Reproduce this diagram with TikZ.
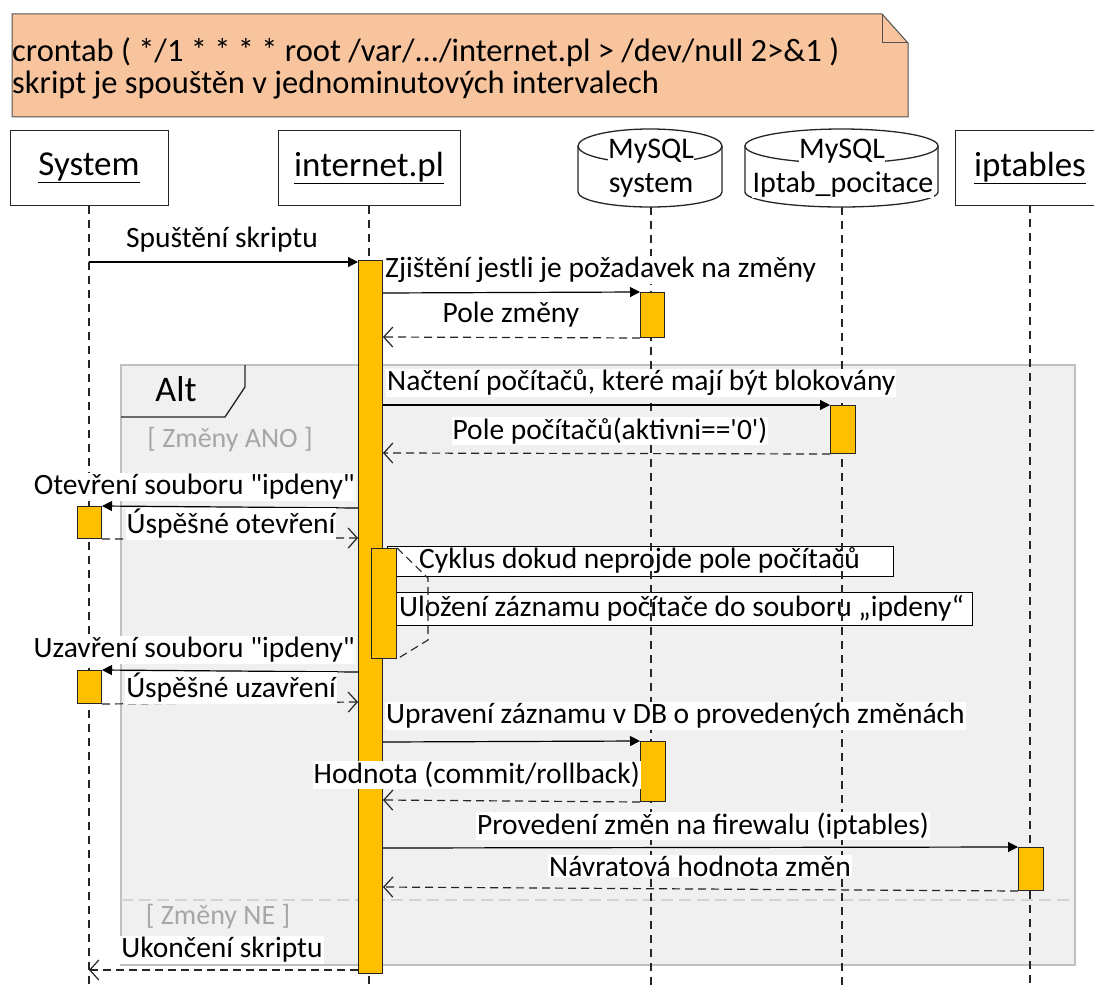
\documentclass[tikz,border=0pt]{standalone}
\usepackage{fontspec}
\setmainfont{Carlito}
\usetikzlibrary{arrows.meta}
\definecolor{actc}{HTML}{FFC000}
\definecolor{notec}{HTML}{F8C49D}
\definecolor{framec}{HTML}{F0F0F0}
\definecolor{frameb}{HTML}{C0C0C0}
\definecolor{guardc}{HTML}{A6A6A6}
\definecolor{linec}{HTML}{252525}
\begin{document}
\begin{tikzpicture}[x=1pt,y=-1pt,
  every node/.style={font=\fontsize{29.5}{33}\selectfont, inner sep=1pt},
  lbl/.style={fill=white},
  hdr/.style={draw=linec, line width=1pt, font=\fontsize{35}{38}\selectfont},
  act/.style={draw=linec, fill=actc, line width=1pt, inner sep=0pt},
  life/.style={draw=linec, line width=1.1pt, dash pattern=on 8pt off 6pt},
  msg/.style={draw=black, line width=1.2pt, -{Triangle[length=10pt,width=10pt]}},
  ret/.style={draw=linec, line width=1.2pt, dash pattern=on 8pt off 5pt, -{Straight Barb[length=9pt,width=20pt,line width=1.2pt]}},
  guard/.style={text=guardc, font=\fontsize{28}{32}\selectfont},
  loopbox/.style={draw=black, line width=1.3pt, fill=white, inner sep=0pt, anchor=north west},
  cyl/.style={draw=linec, line width=1.3pt},
  cyltext/.style={fill=white, inner sep=0.5pt, font=\fontsize{30}{31}\selectfont},
  notetext/.style={anchor=west, font=\fontsize{32.5}{36}\selectfont},
]
\useasboundingbox (0,0) rectangle (1094,987);

% note
\draw[fill=notec, draw=linec!80, line width=1pt] (12,14) -- (882,14) -- (908,43) -- (908,117) -- (12,117) -- cycle;
\draw[draw=linec!80, line width=1pt] (882,14) -- (882,43) -- (908,43);
\node[notetext] (n1) at (11,52) {crontab ( */1 * * * * root /var/.../internet.pl > /dev/null 2>\&1 )};
\node[notetext] (n2) at (11,85) {skript je spouštěn v jednominutových intervalech};

% alt frame
\draw[fill=framec, draw=frameb, line width=1.3pt] (121,365) rectangle (1075,965);
\draw[draw=linec, line width=1.3pt] (121,417) -- (225,417) -- (245,387) -- (245,365);
\node[font=\fontsize{36}{40}\selectfont] (alt) at (176,389) {Alt};
\node[guard] (g1) at (230,440) {[ Změny ANO ]};
\draw[draw=frameb!70, line width=1.3pt, dash pattern=on 12pt off 6pt] (121,900) -- (1075,900);
\node[guard] (g2) at (218,917) {[ Změny NE ]};

% headers
\node[hdr, minimum width=158pt, minimum height=74pt] (hSys) at (89,168) {\underline{System}};
\node[hdr, minimum width=182pt, minimum height=74pt] (hInt) at (369,168) {\underline{internet.pl}};
\node[hdr, minimum width=150pt, minimum height=74pt, anchor=west] (hIpt) at (955,168) {\hspace*{0pt}};
\node[font=\fontsize{35}{38}\selectfont] (tIpt) at (1030,168) {\underline{iptables}};
% cylinders
\draw[cyl] (578,146) -- (578,192) arc[start angle=180, end angle=0, x radius=72, y radius=15] -- (722,146);
\draw[cyl] (650,146) ellipse [x radius=72, y radius=17];
\node[cyltext] (hDb1) at (651,151) {MySQL};
\node[cyltext] (hDb1b) at (651,185) {system};
\draw[cyl] (745,146) -- (745,192) arc[start angle=180, end angle=0, x radius=96.5, y radius=15] -- (938,146);
\draw[cyl] (841.5,146) ellipse [x radius=96.5, y radius=17];
\node[cyltext] (hDb2) at (842,151) {MySQL};
\node[cyltext] (hDb2b) at (843,185) {Iptab\_pocitace};
\coordinate (cDb1) at (651,207);
\coordinate (cDb2) at (842,207);

% loop boxes
\node[loopbox, minimum width=506pt, minimum height=30pt] (c1) at (387,546) {};
\node[anchor=west] (c1t) at (418,561) {Cyklus dokud neprojde pole počítačů};
\node[loopbox, minimum width=585pt, minimum height=33pt] (c2) at (387,592) {};
\node[anchor=west] (c2t) at (398,608) {Uložení záznamu počítače do souboru „ipdeny“};

% lifelines
\draw[life] (hSys.south) -- (hSys.south |- 0,987);
\draw[life] (hInt.south) -- (hInt.south |- 0,987);
\draw[life] (cDb1) -- (cDb1 |- 0,987);
\draw[life] (cDb2) -- (cDb2 |- 0,987);
\draw[life] (1030,205) -- (1030,987);

% activations
\node[act, minimum width=24pt, minimum height=713pt, anchor=north west] (a1) at (358,260) {};
\node[act, minimum width=25pt, minimum height=110pt, anchor=north west] (a2) at (371,548) {};
\node[act, minimum width=24pt, minimum height=45pt, anchor=north west] (m1) at (640,292) {};
\node[act, minimum width=25pt, minimum height=48pt, anchor=north west] (i1) at (830,405) {};
\node[act, minimum width=24pt, minimum height=32pt, anchor=north west] (s1) at (77,506) {};
\node[act, minimum width=24pt, minimum height=33pt, anchor=north west] (s2) at (77,670) {};
\node[act, minimum width=25pt, minimum height=60pt, anchor=north west] (m2) at (640,741) {};
\node[act, minimum width=25pt, minimum height=43pt, anchor=north west] (t1) at (1018,847) {};

% self loop
\draw[draw=linec, line width=1.1pt, dash pattern=on 8pt off 5pt] (a2.north east) -- (428,578) -- (428,640) -- (a2.south east);

% messages
\draw[msg] (hSys.south |- 0,262) -- (a1.west |- 0,262);
\node (l1) at (222,240) {Spuštění skriptu};
\draw[msg] (a1.east |- 0,293) -- (m1.north west);
\node[lbl, anchor=west] (l2) at (384,270) {Zjištění jestli je požadavek na změny};
\draw[ret] (m1.south west) -- (a1.east |- 0,337);
\node[lbl] (l3) at (511,315) {Pole změny};
\draw[msg] (a1.east |- 0,405) -- (i1.north west);
\node[lbl, anchor=west] (l4) at (386,383) {Načtení počítačů, které mají být blokovány};
\draw[ret] (i1.south west) -- (a1.east |- 0,453);
\node[lbl] (l5) at (610,431) {Pole počítačů(aktivni==\textquotesingle0\textquotesingle)};
\draw[msg] (a1.west |- 0,508) -- (s1.north east);
\node[lbl, anchor=east] (l6) at (356,487) {Otevření souboru \textquotedbl ipdeny\textquotedbl};
\draw[ret] (s1.south east) -- (a1.west |- 0,538);
\node[lbl] (l7) at (231,524) {Úspěšné otevření};
\draw[msg] (a1.west |- 0,672) -- (s2.north east);
\node[lbl, anchor=east] (l9) at (356,650) {Uzavření souboru \textquotedbl ipdeny\textquotedbl};
\draw[ret] (s2.south east) -- (a1.west |- 0,702);
\node[lbl] (l10) at (231,688) {Úspěšné uzavření};
\draw[msg] (a1.east |- 0,742) -- (m2.north west);
\node[lbl, anchor=west] (l11) at (385,716) {Upravení záznamu v DB o provedených změnách};
\draw[ret] (m2.south west) -- (a1.east |- 0,800);
\node[lbl, anchor=east] (l12) at (641,775) {Hodnota (commit/rollback)};
\draw[msg] (a1.east |- 0,848) -- (t1.north west);
\node[lbl] (l13) at (703,826) {Provedení změn na firewalu (iptables)};
\draw[ret] (t1.south west) -- (a1.east |- 0,887);
\node[lbl] (l14) at (700,866) {Návratová hodnota změn};
\draw[ret] (a1.west |- 0,970) -- (hSys.south |- 0,970);
\node[lbl] (l15) at (222,950) {Ukončení skriptu};
\end{tikzpicture}
\end{document}
